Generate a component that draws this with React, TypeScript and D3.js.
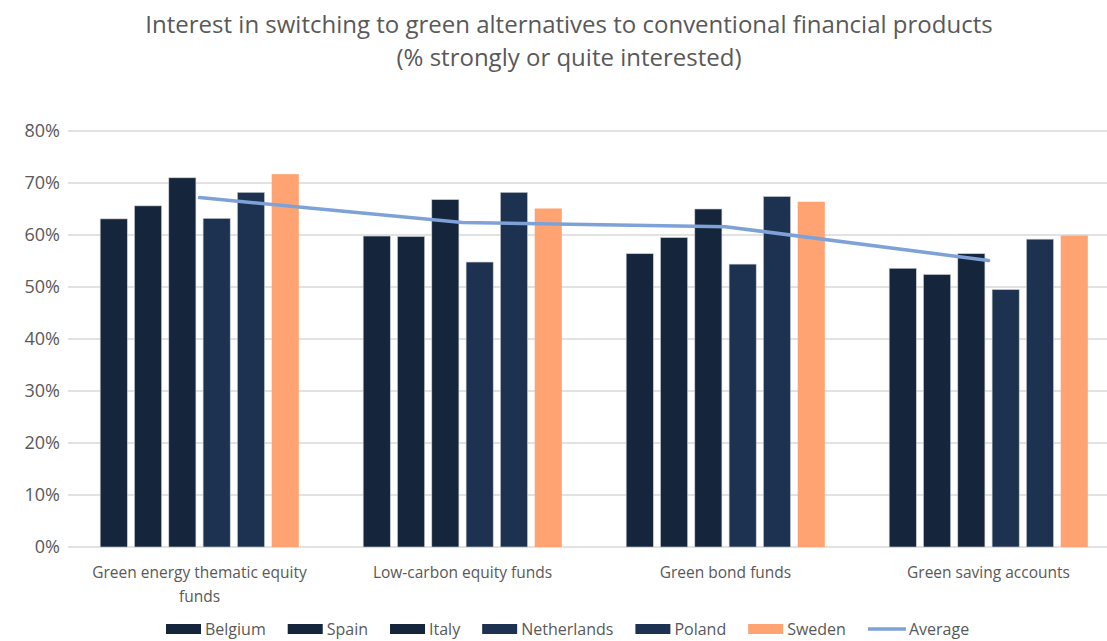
import React, { useEffect, useRef } from 'react';
import * as d3 from 'd3';

const categories = [
  'Green energy thematic equity funds',
  'Low-carbon equity funds',
  'Green bond funds',
  'Green saving accounts'
];

const countries = ['Belgium', 'Spain', 'Italy', 'Netherlands', 'Poland', 'Sweden'];

// values per country, in category order (%)
const belgium = [63.1, 59.8, 56.4, 53.6];
const spain = [65.6, 59.7, 59.5, 52.4];
const italy = [71.0, 66.8, 65.0, 56.4];
const netherlands = [63.2, 54.8, 54.4, 49.5];
const poland = [68.2, 68.2, 67.4, 59.2];
const sweden = [71.7, 65.1, 66.4, 59.9];
const average = [67.2, 62.4, 61.6, 55.1];

const yTicks = [0, 10, 20, 30, 40, 50, 60, 70, 80];

const colors = ['#15253c', '#15253c', '#15253c', '#1c3250', '#1c3250', '#ffa372'];
const lineColor = '#7ea2d7';
const textColor = '#595959';

const W = 1107;
const H = 641;

const App: React.FC = () => {
  const svgRef = useRef<SVGSVGElement>(null);

  useEffect(() => {
    if (!svgRef.current) return;
    const svg = d3.select(svgRef.current);
    svg.selectAll('*').remove();

    const series = [belgium, spain, italy, netherlands, poland, sweden];
    const margin = { left: 68, right: -13, top: 131, bottom: 94 };

    const x0 = d3.scaleBand<string>()
      .domain(categories)
      .range([margin.left, W - margin.right])
      .paddingInner(0.19)
      .paddingOuter(0.095);

    const x1 = d3.scaleBand<string>()
      .domain(countries)
      .range([0, x0.bandwidth()])
      .padding(0.21);

    const y = d3.scaleLinear()
      .domain([0, 80])
      .range([H - margin.bottom, margin.top]);

    // title
    const title = svg.append('text')
      .attr('text-anchor', 'middle')
      .style('font-family', '"Open Sans", sans-serif')
      .style('font-size', '24px')
      .style('fill', textColor);
    title.append('tspan').attr('x', 569).attr('y', 33)
      .text('Interest in switching to green alternatives to conventional financial products');
    title.append('tspan').attr('x', 569).attr('y', 66)
      .text('(% strongly or quite interested)');

    // gridlines
    svg.append('g')
      .selectAll('line')
      .data(yTicks)
      .join('line')
      .attr('x1', margin.left)
      .attr('x2', W)
      .attr('y1', d => y(d))
      .attr('y2', d => y(d))
      .style('stroke', '#d9d9d9')
      .style('stroke-width', 1.5);

    // y labels
    svg.append('g')
      .selectAll('text')
      .data(yTicks)
      .join('text')
      .attr('x', 60)
      .attr('y', d => y(d))
      .attr('dy', '0.35em')
      .attr('text-anchor', 'end')
      .style('font-family', '"Open Sans", sans-serif')
      .style('font-size', '18px')
      .style('fill', textColor)
      .text(d => `${d}%`);

    // bars
    const groups = svg.append('g')
      .selectAll('g')
      .data(categories)
      .join('g')
      .attr('transform', d => `translate(${x0(d)},0)`);

    groups.selectAll('rect')
      .data((_, ci) => countries.map((c, si) => ({ c, si, v: series[si][ci] })))
      .join('rect')
      .attr('x', d => x1(d.c) as number)
      .attr('width', x1.bandwidth())
      .attr('y', d => y(d.v))
      .attr('height', d => y(0) - y(d.v))
      .style('fill', d => colors[d.si])
      .style('stroke', d => d.si === 5 ? 'none' : '#c9ccd2')
      .style('stroke-width', 0.6);

    // average line
    const line = d3.line<number>()
      .x((_, i) => (x0(categories[i]) as number) + x0.bandwidth() / 2)
      .y(d => y(d));
    svg.append('path')
      .attr('d', line(average))
      .style('fill', 'none')
      .style('stroke', lineColor)
      .style('stroke-width', 3.5)
      .style('stroke-linecap', 'round');

    // category labels
    const catLabels = svg.append('g')
      .selectAll('text')
      .data(categories)
      .join('text')
      .attr('text-anchor', 'middle')
      .style('font-family', '"Open Sans", sans-serif')
      .style('font-size', '15.5px')
      .style('fill', textColor);
    catLabels.each(function (d) {
      const t = d3.select(this);
      const cx = (x0(d) as number) + x0.bandwidth() / 2;
      const lines = d.length > 30 ? ['Green energy thematic equity', 'funds'] : [d];
      lines.forEach((l, i) => {
        t.append('tspan').attr('x', cx).attr('y', 578 + i * 24).text(l);
      });
    });

    // legend
    const legend = svg.append('g').attr('transform', `translate(166,629)`);
    let lx = 0;
    const items = [...countries, 'Average'];
    items.forEach((name, i) => {
      const g = legend.append('g').attr('transform', `translate(${lx},0)`);
      if (i < 6) {
        g.append('rect')
          .attr('x', 0).attr('y', -5).attr('width', 35).attr('height', 10)
          .style('fill', colors[i]);
      } else {
        g.append('line')
          .attr('x1', 0).attr('x2', 38).attr('y1', 0).attr('y2', 0)
          .style('stroke', lineColor).style('stroke-width', 3.5);
      }
      const t = g.append('text')
        .attr('x', i < 6 ? 39 : 41)
        .attr('dy', '0.35em')
        .style('font-family', '"Open Sans", sans-serif')
        .style('font-size', '16px')
        .style('fill', textColor)
        .text(name);
      const tw = (t.node() as SVGTextElement).getComputedTextLength();
      lx += 39 + tw + 22;
    });
  }, []);

  return (
    <svg
      ref={svgRef}
      width={W}
      height={H}
      style={{ position: 'absolute', left: 0, top: 0, background: '#fff' }}
    />
  );
};

export default App;
